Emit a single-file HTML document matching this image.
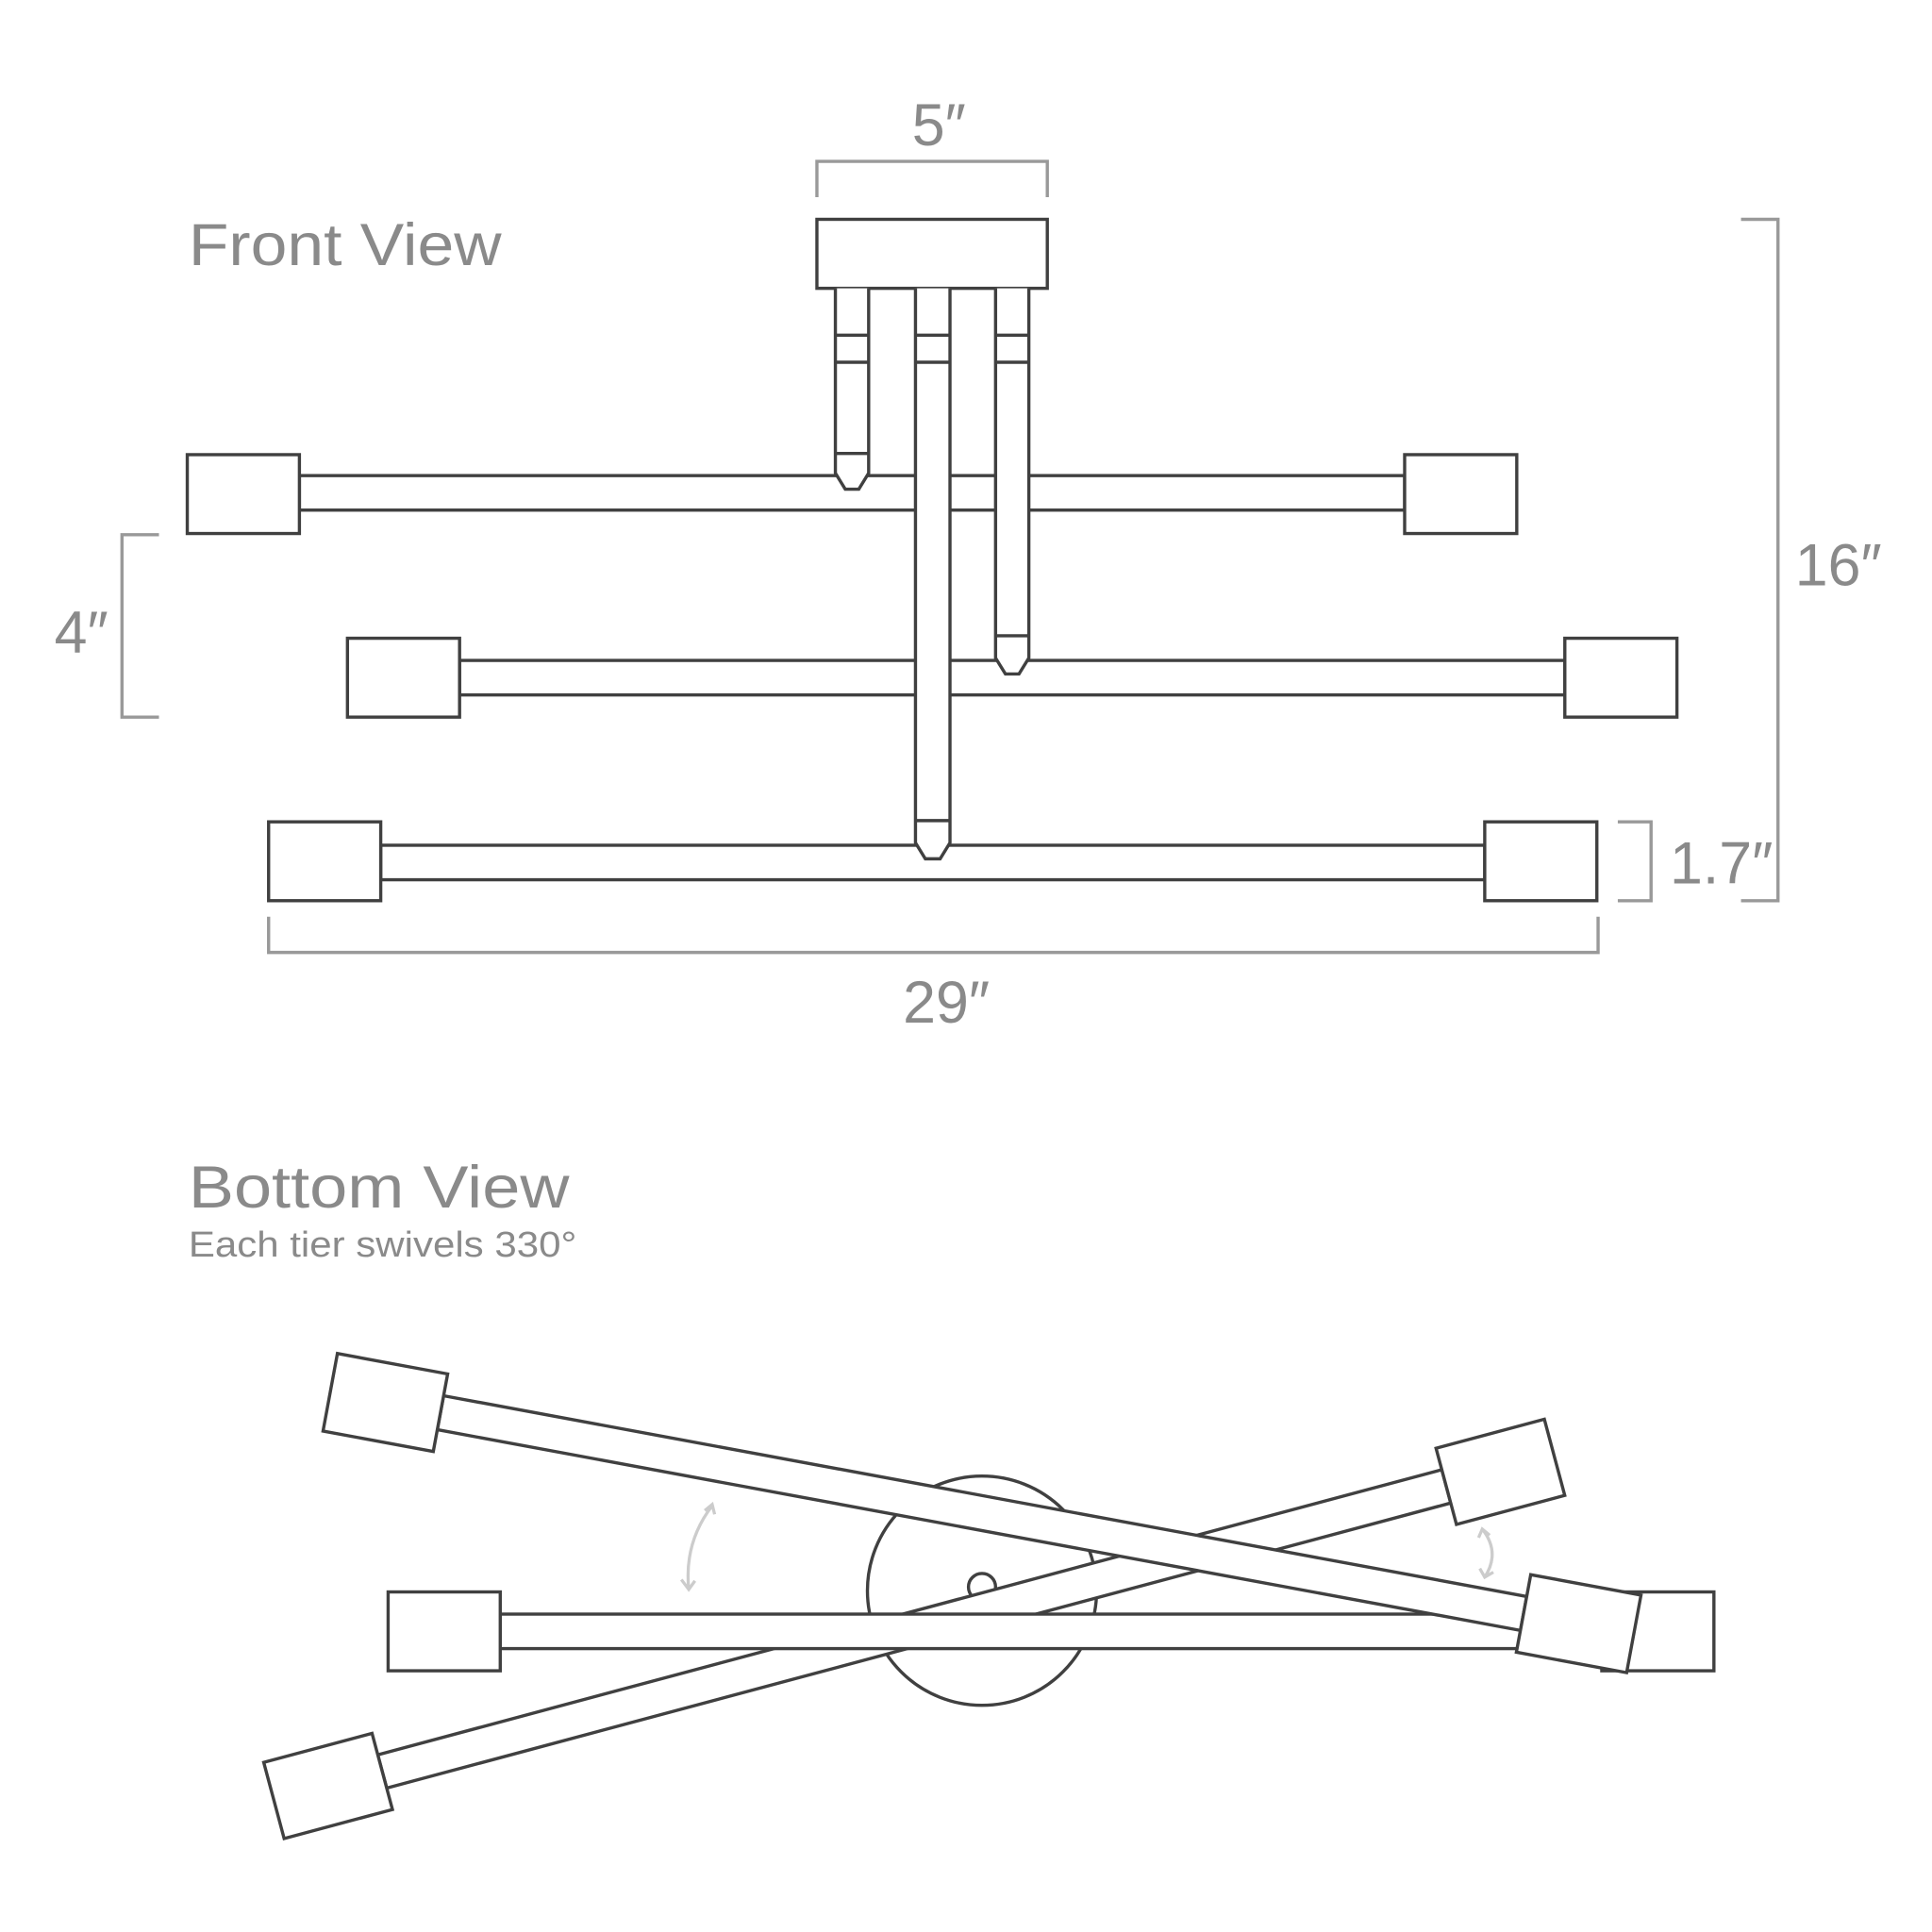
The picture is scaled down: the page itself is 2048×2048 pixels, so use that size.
<!DOCTYPE html>
<html><head><meta charset="utf-8"><style>
html,body{margin:0;padding:0;background:#fff}
svg{display:block}
text{font-family:"Liberation Sans",sans-serif;fill:#8a8a8a}
</style></head><body>
<svg width="2048" height="2048" viewBox="0 0 1568 1568" xmlns="http://www.w3.org/2000/svg">
<g fill="#fff" stroke="#404040" stroke-width="2.6">
<rect x="243" y="386" width="897" height="28"/>
<rect x="373" y="536" width="897" height="28"/>
<rect x="309" y="686" width="896" height="28"/>
<rect x="152" y="369" width="91" height="64"/><rect x="1140" y="369" width="91" height="64"/>
<rect x="282" y="518" width="91" height="64"/><rect x="1270" y="518" width="91" height="64"/>
<rect x="218" y="667" width="91" height="64"/><rect x="1205" y="667" width="91" height="64"/>
<rect x="663" y="178" width="187" height="56"/>
<path d="M678 234 V368 V384 L686 397 H697 L705 384 V368 V234"/>
<line x1="678" y1="368" x2="705" y2="368"/>
<line x1="678" y1="272" x2="705" y2="272"/><line x1="678" y1="294" x2="705" y2="294"/>
<path d="M743 234 V666 V684 L751 697 H763 L771 684 V666 V234"/>
<line x1="743" y1="666" x2="771" y2="666"/>
<line x1="743" y1="272" x2="771" y2="272"/><line x1="743" y1="294" x2="771" y2="294"/>
<path d="M808 234 V516 V534 L816 547 H827 L835 534 V516 V234"/>
<line x1="808" y1="516" x2="835" y2="516"/>
<line x1="808" y1="272" x2="835" y2="272"/><line x1="808" y1="294" x2="835" y2="294"/>
</g>
<g fill="none" stroke="#999" stroke-width="2.6">
<path d="M663 160 V131 H850 V160"/>
<path d="M1413 178 H1443 V731 H1413"/>
<path d="M129 434 H99 V582 H129"/>
<path d="M1313 667 H1340 V731 H1313"/>
<path d="M218 744 V773 H1297 V744"/>
</g>
<text x="762" y="118" font-size="48" text-anchor="middle">5″</text>
<text x="1492" y="475" font-size="48" text-anchor="middle">16″</text>
<text x="66" y="530" font-size="48" text-anchor="middle">4″</text>
<text x="1397" y="717" font-size="48" text-anchor="middle">1.7″</text>
<text x="768" y="830" font-size="48" text-anchor="middle">29″</text>
<text x="153" y="215" font-size="48" textLength="254" lengthAdjust="spacingAndGlyphs">Front View</text>
<text x="153" y="980" font-size="48" textLength="309" lengthAdjust="spacingAndGlyphs">Bottom View</text>
<text x="153" y="1020" font-size="29" textLength="315" lengthAdjust="spacingAndGlyphs">Each tier swivels 330°</text>
<g fill="#fff" stroke="#404040" stroke-width="2.6">
<circle cx="797" cy="1291" r="93"/>
<circle cx="797" cy="1288" r="11"/>
<g transform="translate(742,1322) rotate(-15)">
<rect x="-447" y="-14" width="894" height="28"/>
<rect x="-538" y="-32" width="91" height="64"/><rect x="447" y="-32" width="91" height="64"/>
</g>
<g transform="translate(853,1324)">
<rect x="-447" y="-14" width="894" height="28"/>
<rect x="-538" y="-32" width="91" height="64"/><rect x="447" y="-32" width="91" height="64"/>
</g>
<g transform="translate(797,1228) rotate(10.5)">
<rect x="-447" y="-14" width="894" height="28"/>
<rect x="-538" y="-32" width="91" height="64"/><rect x="447" y="-32" width="91" height="64"/>
</g>
</g>
<g fill="none" stroke="#ccc" stroke-width="2.5">
<path d="M578 1222 Q555 1252 559 1290"/>
<path d="M572 1226 L578 1221 L580 1229"/>
<path d="M553 1282 L559 1290 L564 1283"/>
<path d="M1203 1241 Q1218 1260 1205 1280"/>
<path d="M1200 1248 L1203 1241 L1209 1246"/>
<path d="M1201 1273 L1205 1280 L1212 1276"/>
</g>
</svg>
</body></html>
